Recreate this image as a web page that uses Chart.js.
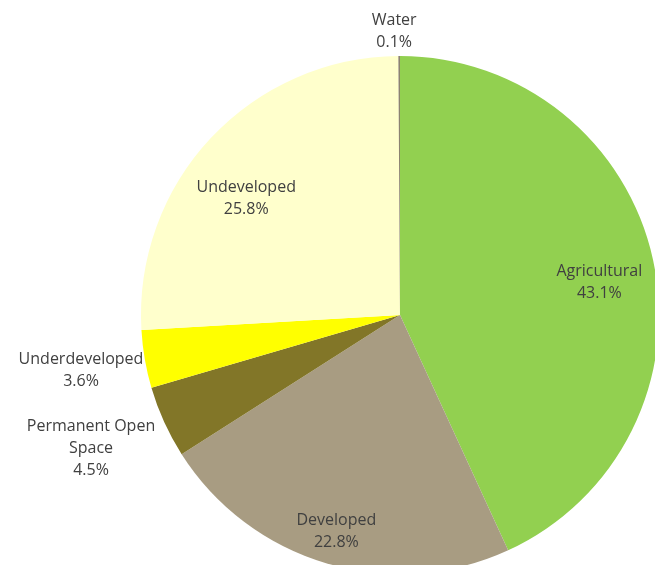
<!DOCTYPE html>
<html>
<head>
<meta charset="utf-8">
<script src="https://cdn.jsdelivr.net/npm/chart.js@4"></script>
<style>
  html, body { margin: 0; padding: 0; background: #fff; overflow: hidden; }
  #wrap { position: absolute; left: 0; top: 0; width: 800px; height: 630px; }
</style>
</head>
<body>
<div id="wrap"><canvas id="chart"></canvas></div>
<script>
// land use shares, clockwise from 12 o'clock
const categories = ["Agricultural", "Developed", "Permanent Open Space", "Underdeveloped", "Undeveloped", "Water"];
const shares = [43.1, 22.8, 4.5, 3.6, 25.8, 0.1];
const shareLabels = ["43.1%", "22.8%", "4.5%", "3.6%", "25.8%", "0.1%"];
const sliceColors = ["#92D050", "#A89C82", "#827628", "#FFFF00", "#FFFFCC", "#8C8270"];

// label text lines (long names wrap like the original)
const nameLines = [["Agricultural"], ["Developed"], ["Permanent Open", "Space"], ["Underdeveloped"], ["Undeveloped"], ["Water"]];
// label placement: distance from centre (share of radius) and small angle nudge in degrees
const labelDist = [0.78, 0.87, 1.30, 1.25, 0.745, 1.095];
const labelTurn = [3, 0, 1, 0, -6, -1];

const sliceLabels = {
    id: "sliceLabels",
    afterDatasetsDraw(chart) {
        const ctx = chart.ctx;
        const arcs = chart.getDatasetMeta(0).data;
        ctx.save();
        ctx.font = "16px 'Open Sans'";
        ctx.fillStyle = "#404040";
        ctx.textAlign = "center";
        ctx.textBaseline = "middle";
        const lineH = 22;
        arcs.forEach((arc, i) => {
            const mid = (arc.startAngle + arc.endAngle) / 2 + labelTurn[i] * Math.PI / 180;
            const r = arc.outerRadius * labelDist[i];
            const cx = arc.x + Math.cos(mid) * r;
            const cy = arc.y + Math.sin(mid) * r;
            const lines = nameLines[i].concat([shareLabels[i]]);
            const top = cy - (lines.length - 1) * lineH / 2;
            lines.forEach((t, k) => ctx.fillText(t, cx, top + k * lineH));
        });
        ctx.restore();
    }
};

const ctx = document.getElementById("chart").getContext("2d");

let chart = new Chart(ctx, {
    type: "pie",
    data: {
        labels: categories,
        datasets: [{
            data: shares,
            backgroundColor: sliceColors,
            borderWidth: 0
        }]
    },
    options: {
        responsive: true,
        maintainAspectRatio: false,
        animation: false,
        radius: 259,
        plugins: {
            legend: { display: false },
            tooltip: { enabled: false }
        }
    },
    plugins: [sliceLabels]
});
</script>
</body>
</html>
